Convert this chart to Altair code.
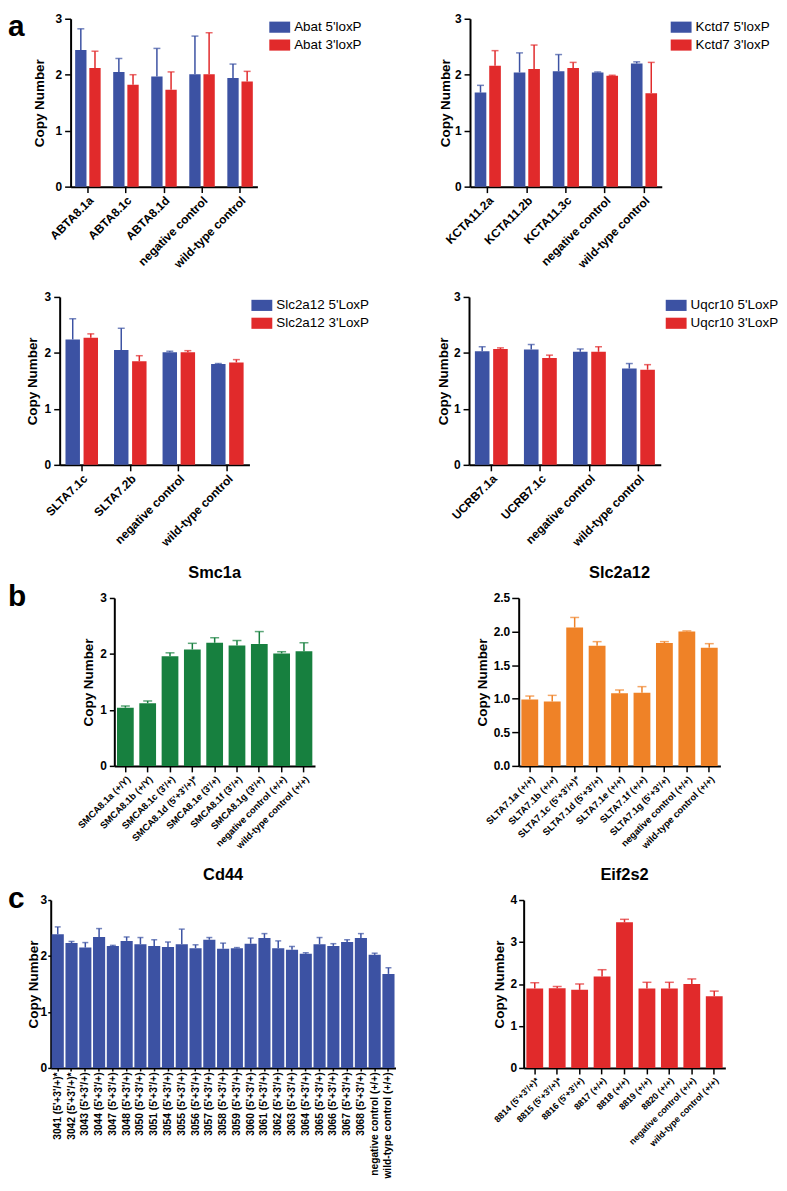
import altair as alt
import pandas as pd

FONT = "Liberation Sans"
BLUE = "#3C52A3"
RED = "#E12A2B"
GREEN = "#17803F"
ORANGE = "#EF8227"

# ---------------- panel a ----------------
abat_groups = ["ABTA8.1a", "ABTA8.1c", "ABTA8.1d", "negative control", "wild-type control"]
abat_names = ["Abat 5'loxP", "Abat 3'loxP"]
abat_5 = [2.44, 2.05, 1.97, 2.01, 1.94]
abat_5_err = [0.38, 0.24, 0.50, 0.68, 0.25]
abat_3 = [2.12, 1.82, 1.73, 2.01, 1.88]
abat_3_err = [0.30, 0.18, 0.32, 0.74, 0.18]

kctd_groups = ["KCTA11.2a", "KCTA11.2b", "KCTA11.3c", "negative control", "wild-type control"]
kctd_names = ["Kctd7 5'loxP", "Kctd7 3'loxP"]
kctd_5 = [1.68, 2.04, 2.06, 2.04, 2.20]
kctd_5_err = [0.13, 0.35, 0.30, 0.01, 0.03]
kctd_3 = [2.16, 2.10, 2.12, 1.98, 1.67]
kctd_3_err = [0.27, 0.43, 0.10, 0.01, 0.55]

slc_groups = ["SLTA7.1c", "SLTA7.2b", "negative control", "wild-type control"]
slc_names = ["Slc2a12 5'LoxP", "Slc2a12 3'LoxP"]
slc_5 = [2.24, 2.05, 2.01, 1.80]
slc_5_err = [0.37, 0.39, 0.02, 0.01]
slc_3 = [2.27, 1.85, 2.01, 1.83]
slc_3_err = [0.07, 0.10, 0.03, 0.05]

uqcr_groups = ["UCRB7.1a", "UCRB7.1c", "negative control", "wild-type control"]
uqcr_names = ["Uqcr10 5'LoxP", "Uqcr10 3'LoxP"]
uqcr_5 = [2.03, 2.06, 2.02, 1.72]
uqcr_5_err = [0.08, 0.09, 0.05, 0.09]
uqcr_3 = [2.07, 1.91, 2.02, 1.70]
uqcr_3_err = [0.02, 0.05, 0.09, 0.09]

# ---------------- panel b ----------------
smc_cats = ["SMCA8.1a (+/Y)", "SMCA8.1b (+/Y)", "SMCA8.1c (3'/+)", "SMCA8.1d (5'+3'/+)*",
            "SMCA8.1e (3'/+)", "SMCA8.1f (3'/+)", "SMCA8.1g (3'/+)",
            "negative control (+/+)", "wild-type control (+/+)"]
smc_vals = [1.04, 1.12, 1.96, 2.08, 2.20, 2.15, 2.18, 2.01, 2.05]
smc_err = [0.03, 0.04, 0.06, 0.11, 0.09, 0.09, 0.22, 0.03, 0.15]

slcb_cats = ["SLTA7.1a (+/+)", "SLTA7.1b (+/+)", "SLTA7.1c (5'+3'/+)*", "SLTA7.1d (5'+3'/+)",
             "SLTA7.1e (+/+)", "SLTA7.1f (+/+)", "SLTA7.1g (5'+3'/+)",
             "negative control (+/+)", "wild-type control (+/+)"]
slcb_vals = [0.99, 0.96, 2.06, 1.79, 1.08, 1.09, 1.83, 2.00, 1.76]
slcb_err = [0.05, 0.09, 0.15, 0.06, 0.05, 0.09, 0.02, 0.01, 0.06]

# ---------------- panel c ----------------
cd44_cats = ["3041 (5'+3'/+)*", "3042 (5'+3'/+)*", "3043 (5'+3'/+)", "3044 (5'+3'/+)",
             "3047 (5'+3'/+)", "3048 (5'+3'/+)", "3050 (5'+3'/+)", "3051 (5'+3'/+)",
             "3054 (5'+3'/+)", "3055 (5'+3'/+)", "3056 (5'+3'/+)", "3057 (5'+3'/+)",
             "3058 (5'+3'/+)", "3059 (5'+3'/+)", "3060 (5'+3'/+)", "3061 (5'+3'/+)",
             "3062 (5'+3'/+)", "3063 (5'+3'/+)", "3064 (5'+3'/+)", "3065 (5'+3'/+)",
             "3066 (5'+3'/+)", "3067 (5'+3'/+)", "3068 (5'+3'/+)",
             "negative control (+/+)", "wild-type control (+/+)"]
cd44_vals = [2.39, 2.23, 2.15, 2.34, 2.18, 2.27, 2.21, 2.18, 2.16, 2.21, 2.14, 2.29, 2.13,
             2.14, 2.22, 2.32, 2.14, 2.11, 2.04, 2.21, 2.18, 2.25, 2.32, 2.02, 1.68]
cd44_err = [0.13, 0.03, 0.09, 0.15, 0.01, 0.07, 0.12, 0.11, 0.09, 0.27, 0.06, 0.04, 0.10,
            0.01, 0.10, 0.08, 0.13, 0.06, 0.02, 0.12, 0.04, 0.04, 0.08, 0.03, 0.11]

eif_cats = ["8814 (5'+3'/+)*", "8815 (5'+3'/+)*", "8816 (5'+3'/+)", "8817 (+/+)", "8818 (+/+)",
            "8819 (+/+)", "8820 (+/+)", "negative control (+/+)", "wild-type control (+/+)"]
eif_vals = [1.89, 1.90, 1.86, 2.18, 3.47, 1.89, 1.89, 2.00, 1.71]
eif_err = [0.14, 0.04, 0.14, 0.16, 0.07, 0.15, 0.15, 0.12, 0.12]


def axis_x(angle, size, tick=6, pad=2):
    return alt.Axis(title=None, labelAngle=angle, labelFont=FONT, labelFontSize=size,
                    labelFontWeight="bold", labelColor="black", labelOverlap=False,
                    labelPadding=pad, labelLimit=300, domainColor="black", domainWidth=2,
                    tickColor="black", tickWidth=1.5, tickSize=tick, grid=False)


def axis_y(values, fmt, title_x, height, tick=6, pad=3):
    return alt.Axis(title="Copy Number", values=values, format=fmt, grid=False,
                    labelFont=FONT, labelFontSize=12, labelFontWeight="bold",
                    labelColor="black", labelPadding=pad, labelOverlap=False,
                    domainColor="black", domainWidth=2,
                    tickColor="black", tickWidth=1.5, tickSize=tick, titleFont=FONT,
                    titleFontSize=13.5, titleFontWeight="bold", titleColor="black",
                    titleX=title_x, titleY=height / 2, titleAngle=270, titleAlign="center",
                    titleBaseline="middle")


def spacer(ch, width, dy, opacity=1.0):
    return alt.Chart(pd.DataFrame({"t": [ch]})).mark_text(
        align="left", baseline="alphabetic", fontSize=30, fontWeight="bold", font=FONT,
        color="black", opacity=opacity
    ).encode(text="t:N", x=alt.value(0), y=alt.value(dy)).properties(width=width, height=1)


def head(title, w):
    return alt.Chart(pd.DataFrame({"t": [title]})).mark_text(
        align="center", baseline="alphabetic", fontSize=16.5, fontWeight="bold", font=FONT,
        color="black"
    ).encode(text="t:N", x=alt.value(w / 2), y=alt.value(-20))


def grouped(groups, names, v5, e5, v3, e3, w, h, title_x, legend_x, legend_y):
    rows = []
    for i, g in enumerate(groups):
        rows.append({"cat": g, "series": names[0], "val": v5[i], "hi": v5[i] + e5[i]})
        rows.append({"cat": g, "series": names[1], "val": v3[i], "hi": v3[i] + e3[i]})
    df = pd.DataFrame(rows)
    base = alt.Chart(df)
    xs = alt.Scale(paddingInner=0.33, paddingOuter=0.12)
    xa = axis_x(-45, 12)
    x = alt.X("cat:N", sort=groups, scale=xs, axis=xa)
    xo = alt.XOffset("series:N", sort=names, scale=alt.Scale(paddingInner=0.2))
    cscale = alt.Scale(domain=names, range=[BLUE, RED])
    ys = alt.Scale(domain=[0, 3], nice=False)
    ya = axis_y([0, 1, 2, 3], "d", title_x, h)
    legend = alt.Legend(title=None, orient="none", legendX=legend_x, legendY=legend_y,
                        labelFont=FONT, labelFontSize=13.5, labelColor="black",
                        symbolType="M-1.5,-0.8L1.5,-0.8L1.5,0.8L-1.5,0.8Z", symbolSize=196,
                        symbolStrokeWidth=0, symbolOpacity=1, labelOffset=7.5,
                        rowPadding=4, padding=0)
    col = alt.Color("series:N", scale=cscale, sort=names, legend=legend)
    bars = base.mark_bar().encode(
        x=x, xOffset=xo, y=alt.Y("val:Q", scale=ys, axis=ya), color=col)
    rules = base.mark_rule(strokeWidth=1.5).encode(
        x=x, xOffset=xo, y=alt.Y("val:Q", scale=ys, axis=ya), y2="hi:Q", color=col)
    caps = base.mark_tick(thickness=1.5, size=7).encode(
        x=x, xOffset=xo, y=alt.Y("hi:Q", scale=ys, axis=ya), color=col)
    return alt.layer(bars, rules, caps).properties(width=w, height=h)


def single(cats, vals, errs, color, w, h, ymax, yvals, yfmt, title, title_x,
           angle, label_size, pi, po, cap, ytick=6, ypad=3, xtick=6, xpad=2):
    df = pd.DataFrame({"cat": cats, "val": vals,
                       "hi": [v + e for v, e in zip(vals, errs)]})
    base = alt.Chart(df)
    xs = alt.Scale(paddingInner=pi, paddingOuter=po)
    x = alt.X("cat:N", sort=cats, scale=xs, axis=axis_x(angle, label_size, xtick, xpad))
    ys = alt.Scale(domain=[0, ymax], nice=False)
    ya = axis_y(yvals, yfmt, title_x, h, ytick, ypad)
    bars = base.mark_bar(color=color).encode(x=x, y=alt.Y("val:Q", scale=ys, axis=ya))
    rules = base.mark_rule(color=color, strokeWidth=1.5).encode(
        x=x, y=alt.Y("val:Q", scale=ys, axis=ya), y2="hi:Q")
    caps = base.mark_tick(color=color, thickness=1.5, size=cap).encode(
        x=x, y=alt.Y("hi:Q", scale=ys, axis=ya))
    return alt.layer(bars, rules, caps, head(title, w)).properties(width=w, height=h)


A1 = grouped(abat_groups, abat_names, abat_5, abat_5_err, abat_3, abat_3_err,
             188, 169, -31, 203.5, 1.5)
A2 = grouped(kctd_groups, kctd_names, kctd_5, kctd_5_err, kctd_3, kctd_3_err,
             193, 169, -25, 205.5, 1.5)
A3 = grouped(slc_groups, slc_names, slc_5, slc_5_err, slc_3, slc_3_err,
             191, 169, -27, 196.5, 1.5)
A4 = grouped(uqcr_groups, uqcr_names, uqcr_5, uqcr_5_err, uqcr_3, uqcr_3_err,
             193, 169, -26, 201.5, 1.5)

B1 = single(smc_cats, smc_vals, smc_err, GREEN, 202, 169, 3, [0, 1, 2, 3], "d", "Smc1a",
            -26, -45, 9.5, 0.25, 0.12, 9, ytick=5, ypad=3)
B2 = single(slcb_cats, slcb_vals, slcb_err, ORANGE, 203, 169, 2.5,
            [0, 0.5, 1, 1.5, 2, 2.5], ".1f", "Slc2a12", -36, -45, 9.5, 0.25, 0.12, 9,
            ytick=7, ypad=2)

C1 = single(cd44_cats, cd44_vals, cd44_err, BLUE, 347, 169, 3, [0, 1, 2, 3], "d", "Cd44",
            -17, -90, 10.3, 0.12, 0.07, 6, ytick=3, ypad=1, xtick=3, xpad=1)
C2 = single(eif_cats, eif_vals, eif_err, RED, 203, 169, 4, [0, 1, 2, 3, 4], "d", "Eif2s2",
            -24, -45, 9, 0.25, 0.12, 9, ytick=5, ypad=2)

RES = dict(x="independent", y="independent", color="independent", xOffset="independent")


def row(letter_chart, left, right, gap):
    inner = alt.hconcat(left, right, spacing=gap).resolve_scale(**RES)
    return alt.hconcat(letter_chart, inner, spacing=0).resolve_scale(**RES)


row1 = row(spacer("a", 24.25, 17), A1, A2, 76)
row2 = row(spacer("a", 17.25, 17, 0.0), A3, A4, 67)
row3 = row(spacer("b", 68, 8), B1, B2, 162)
row4 = row(spacer("c", 18.25, 8), C1, C2, 97)

top = alt.vconcat(row1, row2, spacing=20).resolve_scale(**RES)
chart = alt.vconcat(top, row3, row4, spacing=17).resolve_scale(**RES).properties(
    padding=0
).configure_view(stroke=None)

chart.save("out.html", embed_options={"renderer": "svg", "actions": False})
